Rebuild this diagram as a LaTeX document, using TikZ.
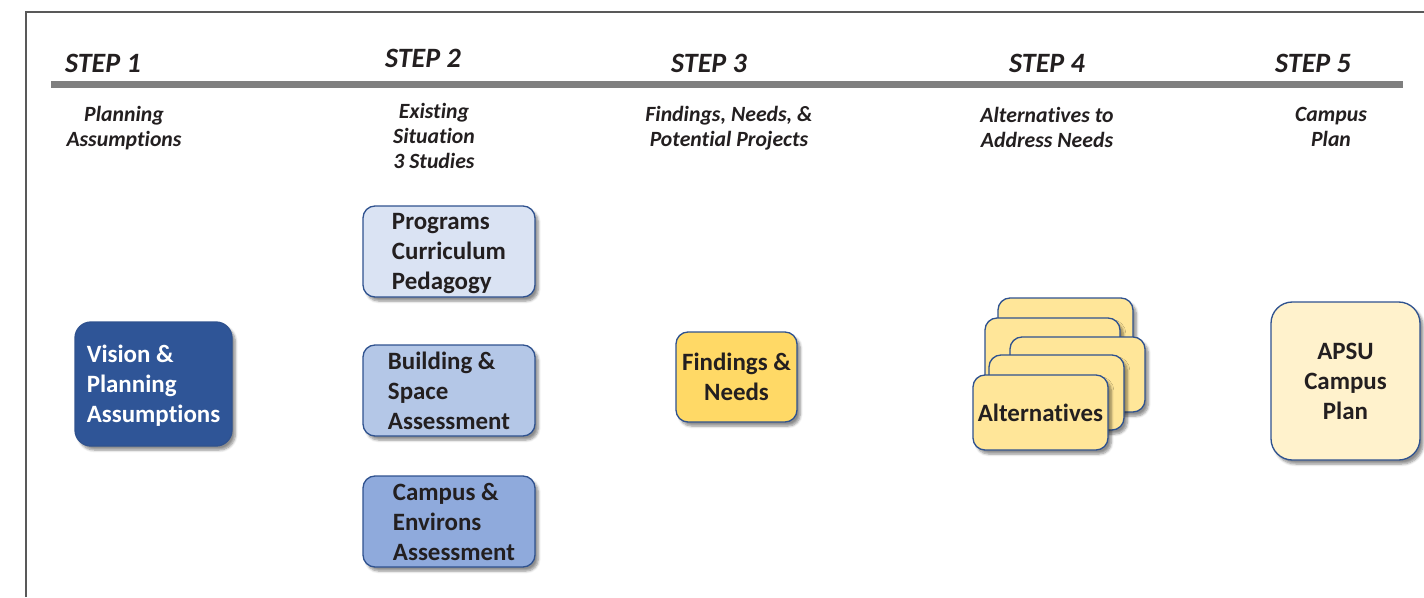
\documentclass[tikz,border=0pt]{standalone}
\usepackage{fontspec}
\setmainfont[Ligatures=NoCommon]{Carlito}
\usetikzlibrary{shadows.blur}

\definecolor{inkdark}{HTML}{231F20}
\definecolor{framegray}{HTML}{595959}
\definecolor{bargray}{HTML}{7F7F7F}
\definecolor{edgeblue}{HTML}{2F528F}
\definecolor{visionblue}{HTML}{2F5597}
\definecolor{paleblue}{HTML}{DAE3F3}
\definecolor{midblue}{HTML}{B4C7E7}
\definecolor{softblue}{HTML}{8FAADC}
\definecolor{goldfill}{HTML}{FFD966}
\definecolor{cardfill}{HTML}{FFE699}
\definecolor{creamfill}{HTML}{FFF2CC}

\tikzset{
  steplabel/.style={font=\fontsize{21}{25}\selectfont\bfseries\itshape, text=inkdark, inner sep=0pt},
  sublabel/.style={font=\fontsize{16.3}{18.75}\selectfont\bfseries\itshape, text=inkdark, align=center, inner sep=0pt},
  boxbase/.style={draw=edgeblue, line width=1pt, inner sep=0pt, text depth=0pt,
    font=\fontsize{18.7}{22.5}\selectfont\bfseries, text=inkdark,
    blur shadow={shadow xshift=2.5pt, shadow yshift=-3pt, shadow blur steps=6, shadow opacity=45}},
  studybox/.style={boxbase, rounded corners=9pt, align=left,
    minimum width=129pt, minimum height=68.25pt},
  card/.style={boxbase, fill=cardfill, rounded corners=9pt,
    minimum width=101.25pt, minimum height=56.25pt},
}

\begin{document}
\begin{tikzpicture}[x=0.75pt, y=-0.75pt]
  \useasboundingbox (0,0) rectangle (1424,597);

  % outer frame (left and top edges)
  \draw[framegray, line width=1.3pt] (26,597) -- (26,12) -- (1424,12);

  % timeline bar
  \fill[bargray] (51,81) rectangle (1403,88);

  % step headings
  \node[steplabel] (s1) at (103,63) {STEP 1};
  \node[steplabel] (s2) at (423,58) {STEP 2};
  \node[steplabel] (s3) at (709,63) {STEP 3};
  \node[steplabel] (s4) at (1047,63) {STEP 4};
  \node[steplabel] (s5) at (1313,63) {STEP 5};

  % step descriptions
  \node[sublabel] (d1) at (124,128.5) {Planning\\Assumptions};
  \node[sublabel] (d2) at (434,136) {Existing\\Situation\\3 Studies};
  \node[sublabel] (d3) at (729,128.5) {Findings, Needs, \&\\Potential Projects};
  \node[sublabel] (d4) at (1047,127.5) {Alternatives to\\Address Needs};
  \node[sublabel] (d5) at (1331,126.5) {Campus\\Plan};

  % step 1
  \node[boxbase, fill=visionblue, text=white, align=left, rounded corners=12pt,
        minimum width=117.75pt, minimum height=93pt] (vision) at (153.5,384)
        {Vision \&\\Planning\\Assumptions};

  % step 2: the three studies
  \node[studybox, fill=paleblue] (programs) at (449,251.5) {Programs\\Curriculum\\Pedagogy};
  \node[studybox, fill=midblue] (building) at (449,390.5) {Building \&\\Space\\Assessment};
  \node[studybox, fill=softblue] (environs) at (449,521.5)
        {\hspace*{7.5pt}Campus \&\\\hspace*{7.5pt}Environs\\\hspace*{7.5pt}Assessment};

  % step 3
  \node[boxbase, fill=goldfill, align=center, rounded corners=9pt,
        minimum width=90.75pt, minimum height=67.5pt] (findings) at (736.5,377)
        {Findings \&\\Needs};

  % step 4: stacked alternative cards, back to front
  \node[card] (alt5) at (1065.5,335.5) {};
  \node[card] (alt4) at (1052.5,355.5) {};
  \node[card] (alt3) at (1077.5,374.5) {};
  \node[card] (alt2) at (1056.5,392.5) {};
  \node[card] (alt1) at (1040.5,412.5) {Alternatives};

  % step 5
  \node[boxbase, fill=creamfill, align=center, rounded corners=16pt,
        minimum width=111.75pt, minimum height=118.5pt] (plan) at (1345.5,381)
        {APSU\\Campus\\Plan};
\end{tikzpicture}
\end{document}
